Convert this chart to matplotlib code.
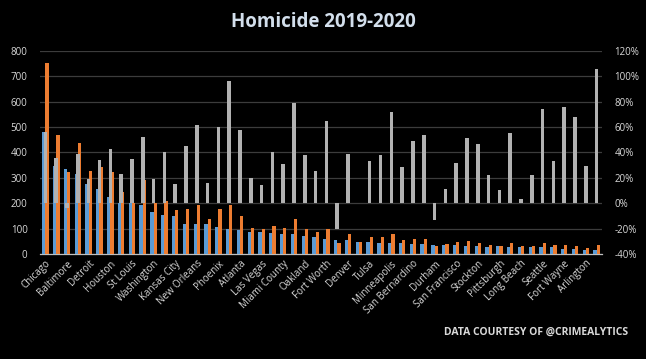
import matplotlib
matplotlib.use("Agg")
import matplotlib.pyplot as plt
import numpy as np

cities = ["Chicago", "Philadelphia", "Baltimore", "New York", "Detroit", "Los Angeles",
          "Houston", "Memphis", "St Louis", "Dallas", "Washington", "Milwaukee",
          "Kansas City", "Indianapolis", "New Orleans", "Jacksonville", "Phoenix", "Louisville",
          "Atlanta", "Columbus", "Las Vegas", "Cleveland", "Miami County", "Cincinnati",
          "Oakland", "Nashville", "Fort Worth", "Newark", "Denver", "Oklahoma City",
          "Tulsa", "Albuquerque", "Minneapolis", "Tampa", "San Bernardino", "Austin",
          "Durham", "Boston", "San Francisco", "Omaha", "Stockton", "San Jose",
          "Pittsburgh", "Portland", "Long Beach", "Sacramento", "Seattle", "Colorado Springs",
          "Fort Wayne", "Virginia Beach", "Arlington", "Lincoln"]

h2019 = [481, 347, 334, 314, 275, 255, 223, 200, 199, 193, 164, 152,
         148, 120, 120, 120, 108, 97, 93, 85, 85, 81, 80, 77,
         72, 68, 61, 57, 57, 49, 49, 45, 45, 45, 41, 38,
         37, 37, 34, 33, 30, 29, 30, 29, 29, 26, 26, 26,
         21, 18, 17, 17]

h2020 = [751, 470, 322, 437, 327, 343, 324, 245, 200, 291, 202, 210,
         172, 176, 192, 136, 176, 192, 148, 104, 97, 112, 104, 136,
         100, 88, 100, 45, 77, 49, 65, 65, 80, 57, 61, 58,
         31, 41, 46, 50, 45, 36, 33, 45, 30, 33, 45, 34,
         37, 30, 22, 34]

pct_change = [56, 36, -3.5, 39, 19, 34, 43, 23, 35, 52, 19, 40,
              15, 45, 62, 16, 60, 96, 58, 20, 14.5, 40, 31, 79,
              38, 25.6, 65, -20.5, 39, 0, 33.6, 38, 72, 28.7, 49, 54,
              -13.5, 11, 32, 51.5, 46.5, 22.5, 10.5, 55.5, 3.2, 22.3, 74.5, 33.3,
              76, 68, 29.5, 106]

left_ticks = [0, 100, 200, 300, 400, 500, 600, 700, 800]
right_ticks = [-40, -20, 0, 20, 40, 60, 80, 100, 120]

BG = "#000000"
TXT = "#d9d9d9"
BLUE = "#5b9bd5"
ORANGE = "#ed7d31"
GRAY = "#b2b2b2"
FONT = "Open Sans"

fig = plt.figure(figsize=(6.46, 3.59), dpi=100, facecolor=BG)
ax = fig.add_axes([0.062, 0.2925, 0.870, 0.5655])
ax.set_facecolor(BG)

x = np.arange(len(cities))
w = 0.3
ax.bar(x - 0.15, h2019, width=w, color=BLUE, zorder=3)
ax.bar(x + 0.15, h2020, width=w, color=ORANGE, zorder=3)
ax.set_ylim(0, 800)
ax.set_xlim(-0.5, len(cities) - 0.5)
ax.set_yticks(left_ticks)
ax.set_yticklabels([str(t) for t in left_ticks], fontsize=7, color=TXT, family=FONT)
ax.yaxis.grid(True, color="#3c3c3c", linewidth=0.9, zorder=0)
ax.set_axisbelow(True)
ax.tick_params(axis="y", length=0, pad=9)
ax.set_xticks(x[::2])
ax.set_xticklabels(cities[::2], rotation=45, ha="right", rotation_mode="anchor",
                   fontsize=7, color=TXT, family=FONT)
ax.tick_params(axis="x", length=0, pad=3)
for s in ["top", "left", "right"]:
    ax.spines[s].set_visible(False)
ax.spines["bottom"].set_color("#bfbfbf")
ax.spines["bottom"].set_linewidth(0.9)

ax2 = ax.twinx()
ax2.bar(x, pct_change, width=0.33, color=GRAY, zorder=3)
ax2.set_ylim(-40, 120)
ax2.set_yticks(right_ticks)
ax2.set_yticklabels([f"{t}%" for t in right_ticks], fontsize=7, color=TXT, family=FONT)
ax2.tick_params(axis="y", length=0, pad=9)
for s in ["top", "left", "right", "bottom"]:
    ax2.spines[s].set_visible(False)

fig.text(0.5, 0.94, "Homicide 2019-2020", ha="center", va="center",
         fontsize=13.5, fontweight="bold", color="#d3dfec", family=FONT)
fig.text(0.972, 0.075, "DATA COURTESY OF @CRIMEALYTICS", ha="right", va="center",
         fontsize=7.5, fontweight="bold", color=TXT, family=FONT)

fig.savefig("out.png", dpi=100, facecolor=BG)
